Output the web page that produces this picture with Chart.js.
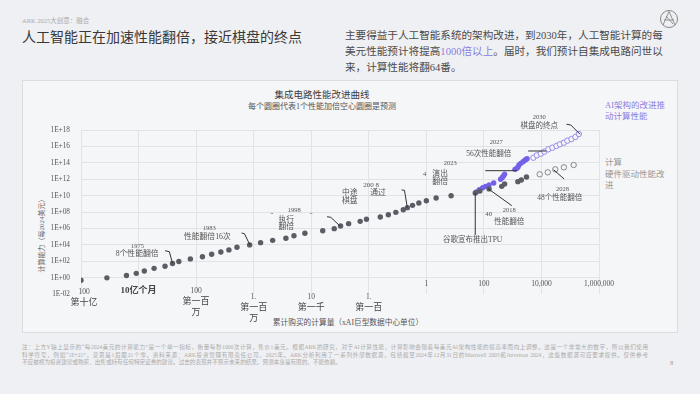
<!DOCTYPE html>
<html>
<head>
<meta charset="utf-8">
<script src="https://cdn.jsdelivr.net/npm/chart.js@4.4.1/dist/chart.umd.min.js"></script>
<style>
body{margin:0;width:700px;height:394px;background:#eff0f3;position:relative;overflow:hidden;font-family:"Liberation Serif","Noto Sans CJK SC",serif;}
.abs{position:absolute;white-space:nowrap;}
#card{position:absolute;left:22px;top:80px;width:654px;height:251px;background:#f5f6f8;border:1px solid #dcdde1;}
#chart{position:absolute;left:0;top:0;}
.foot div{width:626px;text-align:justify;text-align-last:justify;height:7.5px;line-height:7.5px}
</style>
</head>
<body>
<div class="abs" style="left:22px;top:15px;font-size:6.5px;color:#aaa">ARK 2025大创意：融合</div>
<div class="abs" style="left:22px;top:29px;font-size:14px;line-height:18px;color:#383838">人工智能正在加速性能翻倍，接近棋盘的终点</div>
<div class="abs" style="left:345px;top:28px;font-size:10.6px;line-height:16px;color:#4a4a4a">主要得益于人工智能系统的架构改进，到2030年，人工智能计算的每<br>美元性能预计将提高<span style="color:#8a80e0">1000倍以上</span>。届时，我们预计自集成电路问世以<br>来，计算性能将翻64番。</div>
<svg class="abs" style="left:659px;top:9px" width="20" height="20" viewBox="0 0 20 20">
  <circle cx="10" cy="10" r="8.5" fill="none" stroke="#888" stroke-width="1"/>
  <path d="M4 16 L10 2.5 L16 16 M5 11 L15 11 M7 7 L14 15" fill="none" stroke="#888" stroke-width="0.9"/>
</svg>

<div id="card"></div>

<div class="abs" style="left:322px;top:89px;transform:translateX(-50%);font-size:9.5px;line-height:12px;color:#3c3c3c">集成电路性能改进曲线</div>
<div class="abs" style="left:322px;top:102px;transform:translateX(-50%);font-size:8px;line-height:10px;color:#555">每个圆圈代表1个性能加倍空心圆圈是预测</div>
<div class="abs" style="left:41px;top:234px;transform:translate(-50%,-50%) rotate(-90deg);font-size:7px;color:#666">计算能力（每2024美元）</div>
<div class="abs" style="left:348px;top:318px;transform:translateX(-50%);font-size:7.7px;line-height:10px;color:#555">累计购买的计算量（xAI巨型数据中心单位）</div>

<div class="abs" style="left:605px;top:100px;font-size:8.5px;line-height:11px;color:#8a80e0">AI架构的改进推<br>动计算性能</div>
<div class="abs" style="left:605px;top:157px;font-size:8.5px;line-height:11.5px;color:#999">计算<br>硬件驱动性能改<br>进</div>

<div class="abs foot" style="left:22px;top:344px;font-size:5.6px;color:#aaa">
<div>注：上方Y轴上显示的“每2024美元的计算能力”是一个单一指标，衡量每秒1000次计算，售价1美元。根据ARK的研究，对于AI计算性能，计算影响会随着每美元AI架构性能的提高率而向上调整。这是一个非常大的数字，所以我们使用</div>
<div>科学符号，例如“1E+21”，意思是1后跟21个零。资料来源：ARK投资管理有限责任公司，2025年。ARK分析利用了一系列外部数据源，包括截至2024年12月31日的Marzwell 2003和Jurvetson 2024，这些数据源可应要求提供。仅供参考</div>
<div style="text-align-last:left">不应被视为投资建议或购买、出售或持有任何特定证券的建议。过去的表现并不预示未来的结果。预测本身是有限的，不能依赖。</div>
</div>
<div class="abs" style="left:670px;top:359px;font-size:6.5px;color:#999">8</div>

<canvas id="chart" width="700" height="394"></canvas>

<script>
// log10(cumulative compute purchased) / log10(compute per 2024 dollar)
const grayX = [-12, -11.1, -10.42, -10.08, -9.8, -9.46, -9.08, -8.82, -8.6, -8.2, -7.78, -7.46, -7.14, -6.86, -6.58, -6.14, -5.76, -5.34, -4.88, -4.6, -4.22, -3.6, -3.2, -2.98, -2.7, -2.3, -2.08, -1.6, -1.32, -1.06, -0.8, -0.66, -0.48, -0.26, 0, 0.34, 0.86, 1.7, 1.86, 2.18, 2.62, 2.72, 3.18, 3.3, 3.48]
const grayY = [-0.33, -0.03, 0.26, 0.52, 0.8, 1.13, 1.39, 1.72, 1.96, 2.28, 2.55, 2.84, 3.12, 3.38, 3.7, 3.99, 4.26, 4.54, 4.79, 5.11, 5.4, 5.72, 5.97, 6.29, 6.58, 6.86, 7.11, 7.39, 7.67, 7.96, 8.28, 8.53, 8.81, 9.1, 9.38, 9.71, 9.99, 10.32, 10.55, 10.82, 11.13, 11.41, 11.7, 11.9, 12.27]

const aiX = [1.74, 1.84, 1.96, 2.06, 2.18, 2.34, 2.58, 2.64, 2.68, 2.72, 3.08, 3.14, 3.18, 3.22, 3.28, 3.36, 3.42, 3.46, 3.5]
const aiY = [10.44, 10.72, 10.96, 11.13, 11.29, 11.54, 11.99, 12.2, 12.4, 12.6, 13.2, 13.32, 13.45, 13.73, 13.93, 14.13, 14.3, 14.4, 14.5]

const aiProjX = [3.72, 3.84, 3.98, 4.1, 4.24, 4.38, 4.52, 4.64, 4.78, 4.9, 5.04, 5.18, 5.3]
const aiProjY = [14.62, 14.91, 15.11, 15.35, 15.65, 15.84, 16.05, 16.26, 16.45, 16.7, 16.9, 17.15, 17.51]

const grayProjX = [3.94, 4.22, 4.48, 4.78, 5.12]
const grayProjY = [12.6, 12.84, 13.2, 13.45, 13.73]

const xTicks = [-12, -10, -8, -6, -4, -2, 0, 2, 4, 6]
const xTickLabels = [["100", "第十亿"], ["10亿个月"], ["100", "第一百", "万"], ["1.", "第一百", "万"], ["10", "第一千"], ["1.", "第一百"], ["1"], ["100"], ["10,000"], ["1,000,000"]]
const yTicks = [-2, 0, 2, 4, 6, 8, 10, 12, 14, 16, 18]

// annotation texts: [x, y, text, size]
const notes = [
    [-10.04, 3.85, "1975", 6.5], [-10.05, 2.88, "8个性能翻倍", 7.8],
    [-7.54, 5.96, "1983", 6.5], [-7.61, 4.99, "性能翻倍16次", 7.8],
    [-4.59, 8.16, "1998", 6.5], [-4.87, 7.06, "执行", 7.8], [-4.87, 6.13, "翻倍", 7.8],
    [-5.37, 7.55, "\u201c", 6], [-4.0, 7.63, "\u201c", 6],
    [-2.66, 10.35, "中途", 7.8], [-2.66, 9.34, "棋盘", 7.8], [-1.92, 11.33, "200 8", 7], [-1.68, 10.32, "通过", 7.8],
    [-0.06, 12.67, "4", 7], [0.83, 13.94, "2023", 6.5], [0.48, 12.67, "演出", 7.8], [0.48, 11.62, "翻倍", 7.8],
    [2.43, 16.45, "2027", 6.5], [2.17, 15.04, "56次性能翻倍", 7.5],
    [3.92, 19.5, "2030", 6.5], [3.92, 18.49, "棋盘的终点", 7.5],
    [2.88, 8.16, "2018", 6.5], [2.17, 7.72, "40", 7], [2.88, 6.82, "性能翻倍", 7.5],
    [4.73, 10.77, "2028", 6.5], [4.64, 9.67, "48个性能翻倍", 7.5],
    [1.61, 4.59, "谷歌宣布推出TPU", 7.5]
]

// connector lines as polylines in data units
const leaders = [
    [[-9.08, 3.28], [-8.93, 3.16], [-8.82, 1.74]],
    [[-6.42, 5.44], [-6.32, 5.35], [-6.13, 3.98]],
    [[-3.45, 7.43], [-3.32, 7.35], [-3.0, 6.29]],
    [[-0.86, 10.68], [-0.76, 10.65], [-0.66, 8.53]],
    [[3.54, 15.44], [4.17, 15.44]],
    [[2.05, 13.04], [3.15, 13.04]],
    [[4.87, 18.7], [5.02, 18.61], [5.34, 17.48]],
    [[2.15, 10.84], [2.97, 8.77]],
    [[4.42, 13.16], [4.79, 12.02]],
    [[1.7, 10.32], [1.7, 5.2]]
]

function pts(xs, ys){
    return xs.map((v, i) => ({x: v, y: ys[i]}))
}

function yLabel(v){
    return "1E" + (v < 0 ? "-" : "+") + String(Math.abs(v)).padStart(2, "0")
}

const serif = "'Liberation Serif', 'Noto Sans CJK SC', serif"

const textPlugin = {
    id: "texts",
    afterDraw(chart){
        const ctx = chart.ctx
        const x = chart.scales.x
        const y = chart.scales.y
        ctx.save()
        ctx.fillStyle = "#555"
        ctx.textBaseline = "middle"

        // y tick labels
        ctx.textAlign = "right"
        ctx.font = "7.3px " + serif
        yTicks.forEach(v => ctx.fillText(yLabel(v), 70, y.getPixelForValue(v)))

        // x tick labels
        ctx.textAlign = "center"
        const firstLine = [292, 291, 291, 297, 297, 297, 284, 284, 284, 284]
        xTickLabels.forEach((lines, i) => {
            const px = x.getPixelForValue(xTicks[i]) + (i == 0 ? 3 : 0)
            lines.forEach((s, j) => {
                const cjk = /[\u4e00-\u9fff]/.test(s)
                ctx.font = (i == 1 ? "bold " : "") + (cjk ? "9px " : "7.5px ") + serif
                ctx.fillStyle = cjk ? "#444" : "#555"
                ctx.fillText(s, px, firstLine[i] + j * 10.5 + (j > 0 ? 0.5 : 0))
            })
        })

        // notes
        ctx.fillStyle = "#555"
        notes.forEach(n => {
            ctx.font = n[3] + "px " + serif
            ctx.fillText(n[2], x.getPixelForValue(n[0]), y.getPixelForValue(n[1]))
        })

        // leader lines
        ctx.strokeStyle = "#333"
        ctx.lineWidth = 1
        leaders.forEach(l => {
            ctx.beginPath()
            l.forEach((p, k) => {
                const px = x.getPixelForValue(p[0])
                const py = y.getPixelForValue(p[1])
                if(k == 0) ctx.moveTo(px, py)
                else ctx.lineTo(px, py)
            })
            ctx.stroke()
        })
        ctx.restore()
    }
}

const grid = "#e2e3e7"

new Chart(document.getElementById("chart"), {
    type: "scatter",
    data: {
        datasets: [
            {data: pts(grayX, grayY), backgroundColor: "#5b5c64", borderWidth: 0, pointRadius: 2.7},
            {data: pts(aiX, aiY), backgroundColor: "#7262e8", borderWidth: 0, pointRadius: 2.7},
            {data: pts(aiProjX, aiProjY), backgroundColor: "#f5f6f8", borderColor: "#8b80e6", borderWidth: 0.9, pointRadius: 2.7},
            {data: pts(grayProjX, grayProjY), backgroundColor: "#f5f6f8", borderColor: "#7b7b80", borderWidth: 0.9, pointRadius: 2.7}
        ]
    },
    options: {
        responsive: false,
        animation: false,
        devicePixelRatio: 1,
        layout: {padding: {left: 81, right: 101, top: 130, bottom: 100}},
        plugins: {legend: {display: false}, tooltip: {enabled: false}},
        scales: {
            x: {
                type: "linear", min: -12, max: 6,
                ticks: {display: false, stepSize: 2},
                grid: {color: grid, drawTicks: false},
                border: {display: false}
            },
            y: {
                type: "linear", min: -2, max: 18,
                ticks: {display: false, stepSize: 2},
                grid: {color: c => c.tick.value == -2 ? "rgba(0,0,0,0)" : grid, drawTicks: false},
                border: {display: false}
            }
        }
    },
    plugins: [textPlugin]
})
</script>
</body>
</html>
